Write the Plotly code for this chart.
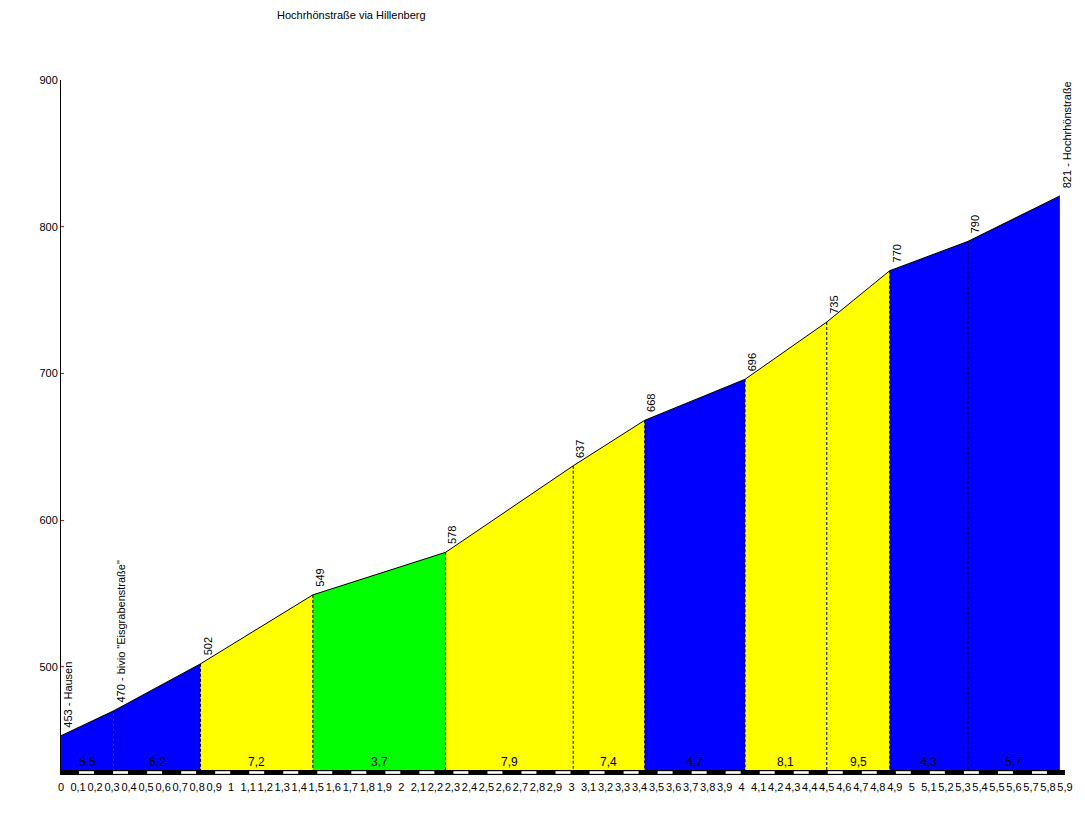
import numpy as np
import plotly.graph_objects as go

# ---- data ----
dist_km = [0.0, 0.31, 0.82, 1.48, 2.26, 3.01, 3.43, 4.02, 4.50, 4.87, 5.33, 5.87]
elev_m = [453, 470, 502, 549, 578, 637, 668, 696, 735, 770, 790, 821]
point_labels = ["453 - Hausen", '470 - bivio "Eisgrabenstraße"', "502", "549", "578",
                "637", "668", "696", "735", "770", "790", "821 - Hochrhönstraße"]
grade_labels = ["5,5", "6,2", "7,2", "3,7", "7,9", "7,4", "4,7", "8,1", "9,5", "4,3", "5,7"]
seg_colors = ["#0000FF", "#0000FF", "#FFFF00", "#00FF00", "#FFFF00", "#FFFF00",
              "#0000FF", "#FFFF00", "#FFFF00", "#0000FF", "#0000FF"]
x_tick_vals = [round(i / 10, 1) for i in range(60)]
x_tick_text = [f"{v:g}".replace(".", ",") for v in x_tick_vals]
y_tick_vals = [500, 600, 700, 800, 900]
title_text = "Hochrhönstraße via Hillenberg"

X_MAX = 5.9
Y_MIN, Y_MAX = 426.2, 900.0
BASE = 429.6  # bottom of filled profile

FONT = "Liberation Sans"

fig = go.Figure()

# colored segments
for i in range(len(dist_km) - 1):
    x0, x1 = dist_km[i], dist_km[i + 1]
    fig.add_trace(go.Scatter(
        x=[x0, x0, x1, x1, x0], y=[BASE, elev_m[i], elev_m[i + 1], BASE, BASE],
        fill="toself", fillcolor=seg_colors[i], mode="lines",
        line=dict(width=0, color=seg_colors[i]), hoverinfo="skip", showlegend=False))

# dashed separators
dx, dy = [], []
for d, e in zip(dist_km[1:-1], elev_m[1:-1]):
    dx += [d, d, None]
    dy += [e, BASE, None]
fig.add_trace(go.Scatter(x=dx, y=dy, mode="lines",
                         line=dict(color="black", width=1, dash="3px,2px"),
                         hoverinfo="skip", showlegend=False))

# profile outline
fig.add_trace(go.Scatter(x=dist_km, y=elev_m, mode="lines",
                         line=dict(color="black", width=1),
                         hoverinfo="skip", showlegend=False))

# ruler
shapes = [dict(type="rect", xref="x", yref="y", x0=0, x1=X_MAX, y0=Y_MIN, y1=BASE,
               fillcolor="black", line=dict(width=0), layer="above")]
for v in x_tick_vals:
    if round(v * 10) % 2 == 1:
        shapes.append(dict(type="rect", xref="x", yref="y", x0=v + 0.006, x1=v + 0.094,
                           y0=Y_MIN + 0.8, y1=BASE - 0.8,
                           fillcolor="white", line=dict(width=0), layer="above"))

annotations = []
# grade labels
for i, g in enumerate(grade_labels):
    annotations.append(dict(x=(dist_km[i] + dist_km[i + 1]) / 2, y=BASE, xref="x", yref="y",
                            text=g, showarrow=False, yanchor="bottom", xanchor="center",
                            yshift=-1, font=dict(family=FONT, size=12, color="black")))
# elevation labels
for d, e, t in zip(dist_km, elev_m, point_labels):
    annotations.append(dict(x=d, y=e, xref="x", yref="y", text=t, showarrow=False,
                            textangle=-90, xanchor="left", yanchor="bottom",
                            xshift=-1, yshift=6,
                            font=dict(family=FONT, size=11, color="black")))
# title
annotations.append(dict(x=0.213, y=1.0935, xref="paper", yref="paper", text=title_text,
                        showarrow=False, xanchor="left", yanchor="middle",
                        font=dict(family=FONT, size=11, color="black")))

fig.update_layout(
    width=1077, height=807,
    margin=dict(l=53, r=20, t=72, b=40),
    paper_bgcolor="white", plot_bgcolor="white",
    shapes=shapes, annotations=annotations,
    font=dict(family=FONT, size=11, color="black"),
    xaxis=dict(range=[0, X_MAX], tickvals=x_tick_vals, ticktext=x_tick_text,
               tickangle=0, showgrid=False, zeroline=False, showline=False,
               ticks="", ticklabelstandoff=4,
               tickfont=dict(family=FONT, size=11, color="black")),
    yaxis=dict(range=[Y_MIN, Y_MAX], tickvals=y_tick_vals, showgrid=False,
               zeroline=False, showline=True, linecolor="black", linewidth=1,
               ticks="inside", ticklen=3, tickcolor="red", tickwidth=1,
               tickfont=dict(family=FONT, size=11, color="black")),
)

fig.write_html("out.html")
